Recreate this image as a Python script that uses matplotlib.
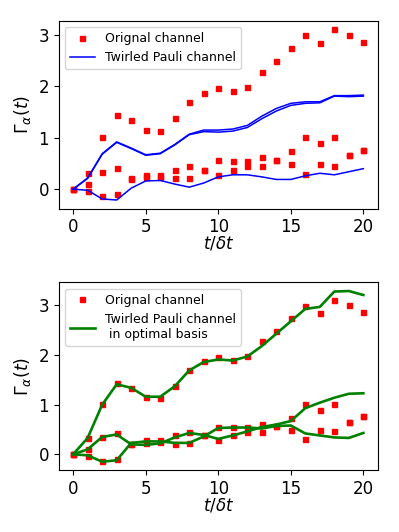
import matplotlib
matplotlib.use("Agg")
from matplotlib import pyplot as plt

t = list(range(21))

# original channel, three components
orig_a = [0, 0.32, 1.01, 1.44, 1.34, 1.15, 1.14, 1.38, 1.70, 1.88, 1.96, 1.91, 1.98, 2.28, 2.49, 2.75, 2.99, 2.85, 3.11, 3.00, 2.86]
orig_b = [0, 0.10, 0.34, 0.42, 0.20, 0.23, 0.24, 0.38, 0.45, 0.38, 0.28, 0.38, 0.45, 0.45, 0.57, 0.74, 1.02, 0.90, 1.01, 0.66, 0.77]
orig_c = [0, -0.03, -0.13, -0.09, 0.21, 0.28, 0.28, 0.21, 0.22, 0.38, 0.56, 0.55, 0.55, 0.62, 0.57, 0.49, 0.30, 0.49, 0.46, 0.66, 0.77]

# twirled pauli channel
pauli_a = [0, 0.22, 0.69, 0.92, 0.80, 0.67, 0.70, 0.87, 1.07, 1.15, 1.15, 1.17, 1.24, 1.42, 1.57, 1.67, 1.70, 1.70, 1.82, 1.82, 1.83]
pauli_b = [0, 0.21, 0.68, 0.91, 0.79, 0.66, 0.69, 0.86, 1.06, 1.12, 1.11, 1.13, 1.20, 1.37, 1.52, 1.63, 1.67, 1.68, 1.81, 1.80, 1.81]
pauli_c = [0, -0.02, -0.19, -0.21, 0.02, 0.16, 0.17, 0.10, 0.04, 0.12, 0.24, 0.28, 0.28, 0.24, 0.19, 0.19, 0.26, 0.31, 0.28, 0.34, 0.40]

# twirled pauli channel in optimal basis
opt_a = [0, 0.33, 1.00, 1.41, 1.34, 1.16, 1.16, 1.37, 1.69, 1.86, 1.91, 1.89, 1.97, 2.18, 2.43, 2.68, 2.93, 2.97, 3.28, 3.29, 3.21]
opt_b = [0, 0.10, 0.35, 0.40, 0.20, 0.19, 0.22, 0.34, 0.43, 0.39, 0.31, 0.38, 0.46, 0.55, 0.60, 0.67, 0.93, 1.04, 1.14, 1.22, 1.23]
opt_c = [0, -0.02, -0.15, -0.12, 0.23, 0.26, 0.26, 0.23, 0.23, 0.36, 0.53, 0.54, 0.54, 0.52, 0.57, 0.58, 0.42, 0.38, 0.34, 0.33, 0.43]

fig = plt.figure(figsize=(3.99, 5.32), dpi=100)
ax1 = fig.add_axes([0.147, 0.608, 0.80, 0.353])
ax2 = fig.add_axes([0.147, 0.116, 0.80, 0.353])

ms = 3.6
for ax in (ax1, ax2):
    ax.plot(t, orig_a, "s", color="red", ms=ms, label="Orignal channel")
    ax.plot(t, orig_b, "s", color="red", ms=ms)
    ax.plot(t, orig_c, "s", color="red", ms=ms)

ax1.plot(t, pauli_a, color="blue", lw=1.1, label="Twirled Pauli channel")
ax1.plot(t, pauli_b, color="blue", lw=1.1)
ax1.plot(t, pauli_c, color="blue", lw=1.1)

ax2.plot(t, opt_a, color="green", lw=1.9, label="Twirled Pauli channel\n in optimal basis")
ax2.plot(t, opt_b, color="green", lw=1.9)
ax2.plot(t, opt_c, color="green", lw=1.9)

for ax in (ax1, ax2):
    ax.set_xticks([0, 5, 10, 15, 20])
    ax.set_yticks([0, 1, 2, 3])
    ax.tick_params(labelsize=12)
    ax.set_xlabel(r"$t/\delta t$", fontsize=12, labelpad=-1)
    ax.set_ylabel(r"$\Gamma_\alpha(t)$", fontsize=12.5)
    ax.legend(loc="upper left", fontsize=9)

plt.savefig("out.png", dpi=100)
